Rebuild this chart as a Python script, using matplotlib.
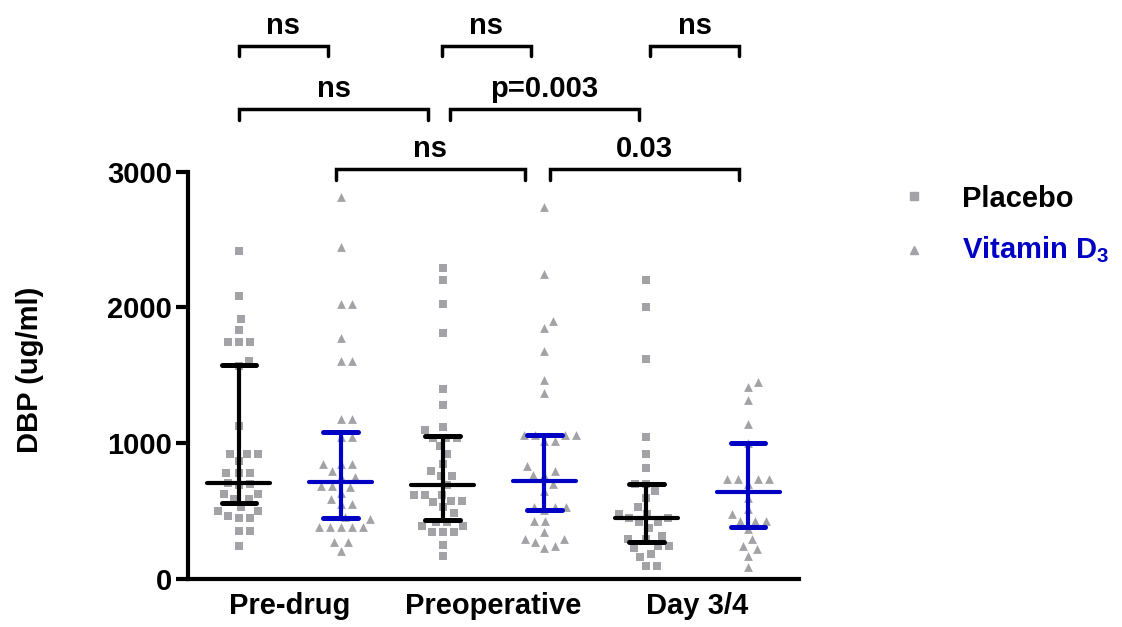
"""
DBP levels by visit, placebo vs vitamin D3 — scatter with median / IQR.
Saves out.png.
"""
import numpy as np
import matplotlib
matplotlib.use("Agg")
import matplotlib.pyplot as plt

# ── Data ─────────────────────────────────────────────────────────────────────
visits = ["Pre-drug", "Preoperative", "Day 3/4"]
groups = ["Placebo", "Vitamin D$_\\mathbf{3}$"]

placebo_pre = [2414, 2088, 1912, 1833, 1745, 1745, 1745, 1605, 1566, 1127, 919,
               919, 919, 868, 784, 784, 784, 705, 700, 695, 625, 625, 588, 588,
               527, 502, 502, 463, 448, 448, 355, 355, 243]
vitd_pre = [2814, 2446, 2029, 2029, 1777, 1605, 1605, 1181, 1181, 1046, 1046,
            845, 845, 845, 797, 750, 750, 686, 686, 676, 637, 588, 551, 551,
            456, 441, 382, 382, 382, 382, 382, 270, 270, 208]
placebo_preop = [2292, 2201, 2029, 1814, 1402, 1282, 1123, 1098, 1042, 1042,
                 1042, 976, 919, 846, 792, 760, 760, 691, 618, 618, 618, 576,
                 576, 564, 527, 485, 421, 421, 392, 392, 348, 348, 348, 252, 167]
vitd_preop = [2738, 2248, 1900, 1850, 1679, 1466, 1373, 1059, 1059, 1059, 1059,
              1017, 1017, 833, 797, 765, 765, 699, 650, 527, 527, 527, 510, 424,
              424, 343, 294, 294, 270, 245, 228]
placebo_day = [2201, 2005, 1618, 1049, 922, 819, 699, 699, 650, 600, 527, 478,
               478, 448, 446, 417, 417, 373, 319, 294, 294, 245, 245, 226, 184,
               160, 93, 93]
vitd_day = [1451, 1414, 1319, 1140, 1000, 735, 735, 735, 735, 699, 600, 515,
            478, 429, 429, 429, 368, 294, 245, 221, 172, 86]

# median and interquartile range, as drawn
medians = [705, 711, 691, 723, 448, 642]
q_low = [559, 448, 434, 510, 270, 382]
q_high = [1573, 1083, 1054, 1059, 699, 1000]

# significance brackets: (x_left, x_right, level, label)
brackets = [
    (1.00, 1.87, 3928, "ns"), (2.99, 3.87, 3928, "ns"), (5.04, 5.91, 3928, "ns"),
    (1.00, 2.86, 3462, "ns"), (3.07, 4.93, 3462, "p=0.003"),
    (1.95, 3.81, 3018, "ns"), (4.05, 5.91, 3018, "0.03"),
]

series = [placebo_pre, vitd_pre, placebo_preop, vitd_preop, placebo_day, vitd_day]

# ── Style ────────────────────────────────────────────────────────────────────
GREY = "#a2a2a7"
BLUE = "#0000c4"
FONT = "Liberation Sans"
plt.rcParams["font.family"] = [FONT, "DejaVu Sans"]
plt.rcParams["font.weight"] = "bold"
plt.rcParams["mathtext.fontset"] = "custom"
plt.rcParams["mathtext.rm"] = FONT
plt.rcParams["mathtext.bf"] = f"{FONT}:bold"
FS = 21

W, H = 1122, 627
fig = plt.figure(figsize=(W / 100, H / 100), dpi=100)
ax_l, ax_r, ax_t, ax_b = 188, 799, 171.7, 579
ax = fig.add_axes([ax_l / W, 1 - ax_b / H, (ax_r - ax_l) / W, (ax_b - ax_t) / H])
ax.set_xlim(0.5, 6.5)
ax.set_ylim(0, 3000)

px_x = (ax_r - ax_l) / 6.0
px_y = (ax_b - ax_t) / 3000.0


def swarm(vals, d=11.0):
    """Simple beeswarm: x offsets (data units) so markers don't overlap."""
    vals = np.asarray(vals, float)
    placed, offs = [], np.zeros(len(vals))
    for i in np.argsort(vals):
        y = vals[i] * px_y
        cands = [0.0]
        for px, py in placed:
            dy = abs(y - py)
            if dy < d:
                h = np.sqrt(d * d - dy * dy)
                cands += [px + h, px - h]
        cands.sort(key=abs)
        for c in cands:
            if all((c - px) ** 2 + (y - py) ** 2 >= d * d - 1e-6 for px, py in placed):
                break
        placed.append((c, y))
        offs[i] = c / px_x
    return offs


# ── Points ───────────────────────────────────────────────────────────────────
for k, vals in enumerate(series):
    pos = k + 1
    xs = pos + swarm(vals)
    if k % 2 == 0:
        ax.scatter(xs, vals, marker="s", s=33, color=GREY, linewidths=0, zorder=2)
    else:
        ax.scatter(xs, vals, marker="^", s=40, color=GREY, linewidths=0, zorder=2)

# ── Median + IQR ─────────────────────────────────────────────────────────────
for k in range(6):
    pos = k + 1
    col = "black" if k % 2 == 0 else BLUE
    kw = dict(color=col, solid_capstyle="round", zorder=3)
    ax.plot([pos, pos], [q_low[k], q_high[k]], lw=3.0, **kw)
    ax.plot([pos - 0.31, pos + 0.31], [medians[k]] * 2, lw=3.0, **kw)
    for q in (q_low[k], q_high[k]):
        ax.plot([pos - 0.17, pos + 0.17], [q, q], lw=3.6, **kw)

# ── Brackets ─────────────────────────────────────────────────────────────────
drop = 78
for x0, x1, lev, lab in brackets:
    ax.plot([x0, x0, x1, x1], [lev - drop, lev, lev, lev - drop], color="black",
            lw=2.5, solid_capstyle="round", solid_joinstyle="miter", clip_on=False)
    ax.text((x0 + x1) / 2, lev + 88, lab, ha="center", va="baseline",
            fontsize=FS, fontweight="bold")

# ── Axes ─────────────────────────────────────────────────────────────────────
for side in ("top", "right"):
    ax.spines[side].set_visible(False)
for side in ("left", "bottom"):
    ax.spines[side].set_linewidth(3.0)
ax.set_yticks([0, 1000, 2000, 3000])
ax.tick_params(axis="y", length=8.5, width=3.0, pad=3, labelsize=FS)
ax.set_xticks([1.5, 3.5, 5.5])
ax.set_xticklabels(visits)
ax.tick_params(axis="x", length=0, pad=9, labelsize=FS)
for lbl in ax.get_xticklabels() + ax.get_yticklabels():
    lbl.set_fontweight("bold")

fig.text(30 / W, 1 - 370 / H, "DBP (ug/ml)", rotation=90, ha="center",
         va="center", fontsize=FS, fontweight="bold")

# ── Legend ───────────────────────────────────────────────────────────────────
fig.lines.append(plt.Line2D([914 / W], [1 - 196 / H], marker="s", markersize=5.2,
                            color=GREY, lw=0, transform=fig.transFigure))
fig.lines.append(plt.Line2D([914 / W], [1 - 250 / H], marker="^", markersize=6.0,
                            color=GREY, lw=0, transform=fig.transFigure))
fig.text(962 / W, 1 - 207 / H, groups[0], fontsize=FS, fontweight="bold",
         color="black", va="baseline")
fig.text(962 / W, 1 - 258 / H, groups[1], fontsize=FS, fontweight="bold",
         color=BLUE, va="baseline")

fig.savefig("out.png", dpi=100)
